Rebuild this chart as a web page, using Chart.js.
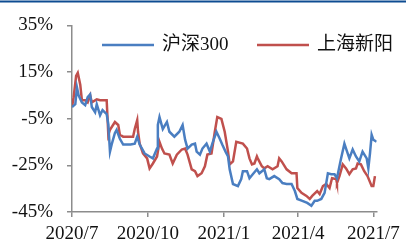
<!DOCTYPE html>
<html>
<head>
<meta charset="utf-8">
<script src="https://cdn.jsdelivr.net/npm/chart.js@4/dist/chart.umd.min.js"></script>
<style>
  html, body { margin: 0; padding: 0; background: #fff; }
  #wrap { width: 406px; height: 243px; position: relative; }
</style>
</head>
<body>
<div id="wrap"><canvas id="perfChart"></canvas></div>
<script>
// days since 2020/7/1, cumulative return in %
const hs300Days = [0, 4, 6, 8, 12, 16, 19, 22, 24, 28, 30, 34, 37, 42, 44, 46, 48, 52, 54, 58, 62, 66, 71, 76, 79, 82, 88, 94, 98, 103, 104, 106, 110, 115, 118, 124, 130, 134, 137, 140, 145, 149, 151, 155, 158, 163, 167, 170, 175, 179, 182, 186, 189, 191, 195, 201, 205, 207, 212, 215, 219, 224, 227, 233, 236, 239, 245, 251, 255, 260, 266, 270, 273, 279, 285, 290, 294, 297, 302, 306, 310, 314, 318, 321, 326, 330, 332, 336, 340, 344, 348, 352, 357, 359, 361, 363, 365, 369];
const hs300Vals = [0, 1.2, 8.4, 5.0, 2.0, 0.8, 4.2, 5.4, 0.0, -2.2, 1.2, -3.5, -1.3, -3.0, -7.3, -19.1, -16.1, -11.1, -9.8, -13.6, -16.1, -16.1, -16.1, -15.7, -12.7, -16.1, -19.9, -21.2, -22.0, -17.8, -7.7, -4.3, -9.4, -6.4, -10.6, -12.7, -10.6, -7.7, -14.0, -17.8, -16.1, -15.7, -19.1, -20.4, -17.8, -15.7, -19.1, -15.7, -10.6, -13.6, -16.1, -19.1, -21.2, -26.7, -33.0, -33.9, -30.9, -27.5, -27.5, -30.5, -28.8, -26.7, -28.4, -26.7, -30.5, -30.9, -29.6, -30.9, -32.6, -33.0, -33.0, -36.0, -39.4, -40.2, -41.1, -42.3, -40.2, -40.2, -39.4, -36.8, -28.4, -28.8, -28.8, -30.5, -22.0, -15.7, -17.8, -22.0, -18.2, -21.2, -23.3, -19.1, -22.0, -26.3, -19.9, -11.9, -14.0, -14.9];

const xinyangDays = [0, 2, 5, 7, 10, 12, 16, 19, 22, 24, 30, 34, 42, 44, 46, 52, 56, 58, 62, 74, 76, 79, 80, 82, 86, 91, 94, 98, 103, 106, 109, 112, 118, 122, 127, 133, 137, 140, 145, 149, 152, 157, 161, 164, 169, 173, 176, 181, 185, 189, 191, 195, 199, 207, 212, 215, 218, 221, 224, 225, 230, 233, 237, 243, 249, 251, 254, 260, 266, 272, 273, 278, 284, 288, 291, 297, 300, 304, 308, 312, 315, 320, 321, 324, 328, 332, 336, 340, 344, 346, 350, 354, 358, 363, 365, 367];
const xinyangVals = [0, 4.2, 13.4, 14.7, 9.6, 2.9, 2.9, 2.0, 5.0, 2.0, 3.3, 2.9, 2.9, -11.9, -9.8, -6.4, -7.7, -11.9, -12.7, -12.7, -9.4, -5.6, -10.6, -15.7, -19.9, -22.0, -26.3, -24.2, -21.2, -14.9, -17.8, -19.9, -20.4, -24.2, -20.4, -18.2, -17.8, -20.4, -26.7, -27.5, -29.6, -28.4, -25.4, -20.4, -19.9, -10.6, -4.3, -5.1, -10.6, -19.1, -24.6, -23.3, -14.9, -15.7, -17.8, -22.0, -24.6, -24.2, -21.2, -22.0, -25.4, -26.3, -25.4, -26.7, -25.4, -22.0, -23.3, -26.7, -28.4, -28.4, -34.7, -36.8, -38.1, -39.4, -38.1, -36.0, -37.3, -33.9, -33.0, -34.7, -30.5, -30.9, -32.6, -29.6, -24.6, -26.3, -28.8, -26.7, -26.3, -24.2, -24.6, -27.5, -29.6, -33.9, -33.9, -29.6];

const seriesNames = ['沪深300', '上海新阳'];
const xTickDays = [0, 92, 184, 274, 365];
const xTickLabels = ['2020/7', '2020/10', '2021/1', '2021/4', '2021/7'];

const BLUE = '#4A7EC1';
const RED = '#C0504D';
const AXIS = '#8C8C8C';
const FONT = "'Liberation Serif', 'Noto Sans CJK SC', serif";

const toPoints = (days, vals) => days.map((d, i) => ({ x: d, y: vals[i] }));

// legend + top rule drawn by hand so it can sit inside the plot like the original
const decor = {
  id: 'decor',
  beforeDraw(chart) {
    const c = chart.ctx;
    c.save();
    c.fillStyle = '#fff';
    c.fillRect(0, 0, chart.width, chart.height);
    c.fillStyle = '#0E4C92';
    c.fillRect(0, 0.5, chart.width, 2);
    c.restore();
  },
  afterDraw(chart) {
    const c = chart.ctx;
    const items = [
      { x: 102, color: BLUE, text: seriesNames[0] },
      { x: 257, color: RED, text: seriesNames[1] }
    ];
    c.save();
    c.font = '19px ' + FONT;
    c.textBaseline = 'middle';
    items.forEach(it => {
      c.strokeStyle = it.color;
      c.lineWidth = 2.5;
      c.beginPath();
      c.moveTo(it.x, 45);
      c.lineTo(it.x + 52, 45);
      c.stroke();
      c.fillStyle = '#111';
      c.fillText(it.text, it.x + 60, 45);
    });
    c.restore();
  }
};

new Chart(document.getElementById('perfChart'), {
  type: 'line',
  data: {
    datasets: [
      {
        label: seriesNames[0],
        data: toPoints(hs300Days, hs300Vals),
        borderColor: BLUE,
        borderWidth: 2.5,
        pointRadius: 0,
        tension: 0
      },
      {
        label: seriesNames[1],
        data: toPoints(xinyangDays, xinyangVals),
        borderColor: RED,
        borderWidth: 2.5,
        pointRadius: 0,
        tension: 0
      }
    ]
  },
  options: {
    responsive: true,
    maintainAspectRatio: false,
    animation: false,
    layout: { padding: { top: 23, right: 29, left: 0, bottom: 0 } },
    plugins: {
      legend: { display: false },
      tooltip: { enabled: false }
    },
    scales: {
      x: {
        type: 'linear',
        min: 0,
        max: 369,
        afterBuildTicks: axis => { axis.ticks = xTickDays.map(v => ({ value: v })); },
        afterFit: axis => { axis.height = 31; },
        ticks: {
          callback: v => xTickLabels[xTickDays.indexOf(v)],
          font: { family: FONT, size: 19 },
          color: '#111',
          padding: 6,
          maxRotation: 0,
          autoSkip: false
        },
        grid: { drawOnChartArea: false, drawTicks: true, tickLength: 5, color: AXIS, lineWidth: 1.5 },
        border: { display: true, color: AXIS, width: 1.5 }
      },
      y: {
        min: -45,
        max: 35,
        afterFit: axis => { axis.width = 72; },
        ticks: {
          stepSize: 20,
          callback: v => v + '%',
          font: { family: FONT, size: 19 },
          color: '#111',
          padding: 14
        },
        grid: { drawOnChartArea: false, drawTicks: true, tickLength: 5, color: AXIS, lineWidth: 1.5 },
        border: { display: true, color: AXIS, width: 1.5 }
      }
    }
  },
  plugins: [decor]
});
</script>
</body>
</html>
